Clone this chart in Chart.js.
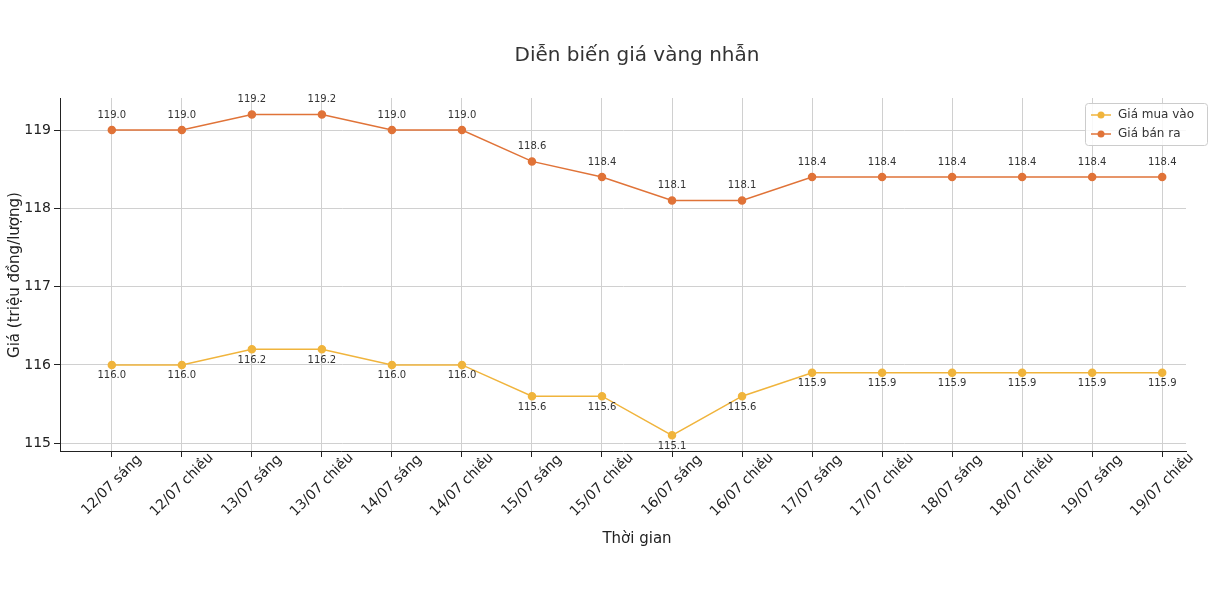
<!DOCTYPE html>
<html>
<head>
<meta charset="utf-8">
<script src="https://cdn.jsdelivr.net/npm/chart.js@4/dist/chart.umd.min.js"></script>
<style>
body { margin: 0; background: #fff; }
#wrap { width: 1226px; height: 592px; }
</style>
</head>
<body>
<div id="wrap"><canvas id="c" width="1226" height="592"></canvas></div>
<script>
LABELS = ["12/07 sáng", "12/07 chiều", "13/07 sáng", "13/07 chiều", "14/07 sáng", "14/07 chiều",
    "15/07 sáng", "15/07 chiều", "16/07 sáng", "16/07 chiều", "17/07 sáng", "17/07 chiều",
    "18/07 sáng", "18/07 chiều", "19/07 sáng", "19/07 chiều"]
BUY = [116.0, 116.0, 116.2, 116.2, 116.0, 116.0, 115.6, 115.6, 115.1, 115.6, 115.9, 115.9, 115.9, 115.9, 115.9, 115.9]
SELL = [119.0, 119.0, 119.2, 119.2, 119.0, 119.0, 118.6, 118.4, 118.1, 118.1, 118.4, 118.4, 118.4, 118.4, 118.4, 118.4]
Y_TICKS = [115, 116, 117, 118, 119]

BUY_COLOR = "#f0b43c"
SELL_COLOR = "#e07338"
FONT = "DejaVu Sans"

function pts(arr) { return arr.map((v, i) => ({x: i, y: v})) }

// value labels, x tick labels, axis titles, title and legend
var extras = {
    id: "extras",
    afterDatasetsDraw(chart) {
        var ctx = chart.ctx
        ctx.save()
        ctx.font = "10px " + FONT
        ctx.fillStyle = "#333"
        ctx.textAlign = "center"
        chart.data.datasets.forEach((ds, di) => {
            var meta = chart.getDatasetMeta(di)
            meta.data.forEach((p, i) => {
                var v = ds.data[i].y.toFixed(1)
                if (di == 0) { ctx.textBaseline = "top"; ctx.fillText(v, p.x, p.y + 6) }
                else { ctx.textBaseline = "bottom"; ctx.fillText(v, p.x, p.y - 10) }
            })
        })
        // x tick labels, rotated around their centre
        var xs = chart.scales.x
        ctx.font = "14px " + FONT
        ctx.fillStyle = "#222"
        ctx.textBaseline = "middle"
        LABELS.forEach((l, i) => {
            ctx.save()
            ctx.translate(xs.getPixelForValue(i), 485)
            ctx.rotate(-Math.PI / 4)
            ctx.fillText(l, 0, 0)
            ctx.restore()
        })
        // axis titles
        ctx.font = "15px " + FONT
        ctx.fillText("Thời gian", 637, 539)
        ctx.save()
        ctx.translate(15, 275)
        ctx.rotate(-Math.PI / 2)
        ctx.fillText("Giá (triệu đồng/lượng)", 0, 0)
        ctx.restore()
        // title
        ctx.font = "20px " + FONT
        ctx.fillStyle = "#333"
        ctx.fillText("Diễn biến giá vàng nhẫn", 637, 56)
        // legend
        var lx = 1085, ly = 103, lw = 122, lh = 42
        ctx.fillStyle = "rgba(255,255,255,0.85)"
        ctx.strokeStyle = "#ccc"
        ctx.lineWidth = 1
        ctx.beginPath()
        ctx.roundRect(lx + 0.5, ly + 0.5, lw, lh, 3)
        ctx.fill(); ctx.stroke()
        var items = [["Giá mua vào", BUY_COLOR], ["Giá bán ra", SELL_COLOR]]
        ctx.font = "12px " + FONT
        ctx.textAlign = "left"
        items.forEach((it, k) => {
            var y = ly + 12 + k * 19
            ctx.strokeStyle = it[1]; ctx.fillStyle = it[1]; ctx.lineWidth = 1.5
            ctx.beginPath(); ctx.moveTo(lx + 6, y); ctx.lineTo(lx + 26, y); ctx.stroke()
            ctx.beginPath(); ctx.arc(lx + 16, y, 3.5, 0, Math.PI * 2); ctx.fill()
            ctx.fillStyle = "#333"
            ctx.fillText(it[0], lx + 33, y)
        })
        ctx.restore()
    }
}

new Chart("c", {
    type: "line",
    data: {
        datasets: [
            {label: "Giá mua vào", data: pts(BUY), borderColor: BUY_COLOR, backgroundColor: BUY_COLOR,
             borderWidth: 1.5, pointRadius: 3.5, tension: 0},
            {label: "Giá bán ra", data: pts(SELL), borderColor: SELL_COLOR, backgroundColor: SELL_COLOR,
             borderWidth: 1.5, pointRadius: 3.5, tension: 0}
        ]
    },
    plugins: [extras],
    options: {
        responsive: false,
        animation: false,
        layout: { padding: { top: 98, right: 40, left: 0, bottom: 0 } },
        plugins: { legend: { display: false }, tooltip: { enabled: false } },
        scales: {
            x: {
                type: "linear", min: -0.74, max: 15.34,
                afterBuildTicks(s) { s.ticks = LABELS.map((l, i) => ({value: i})) },
                afterFit(s) { s.height = 141 },
                ticks: { display: false },
                grid: { color: "#d0d0d0", tickLength: 6, tickColor: "#222" },
                border: { color: "#222", display: true }
            },
            y: {
                min: 114.9, max: 119.41,
                afterBuildTicks(s) { s.ticks = Y_TICKS.map(v => ({value: v})) },
                afterFit(s) { s.width = 60 },
                ticks: { color: "#222", font: { family: FONT, size: 14 } },
                grid: { color: "#d0d0d0", tickLength: 6, tickColor: "#222" },
                border: { color: "#222" }
            }
        }
    }
})
</script>
</body>
</html>
